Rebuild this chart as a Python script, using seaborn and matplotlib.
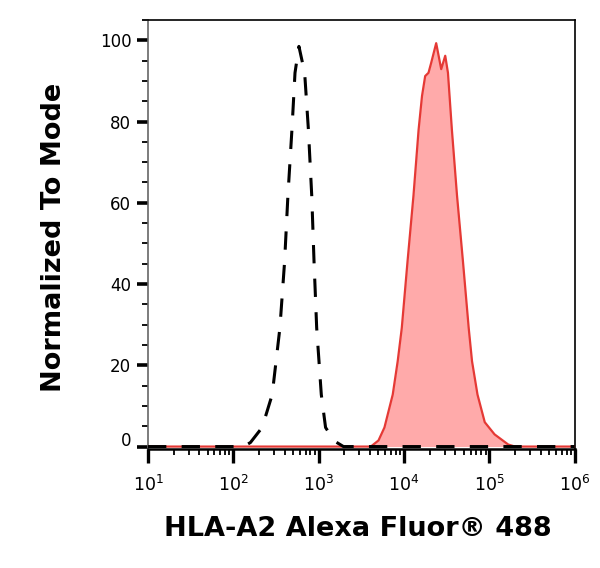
import numpy as np
import pandas as pd
import matplotlib
matplotlib.use("Agg")
import matplotlib.pyplot as plt
import matplotlib.transforms as mtransforms
from matplotlib.ticker import LogLocator, FixedLocator, MultipleLocator, NullFormatter
import seaborn as sns

sns.set_theme(style="ticks")
plt.rcParams['font.family'] = ['DejaVu Sans']
plt.rcParams['mathtext.fontset'] = 'dejavusans'
plt.rcParams['text.color'] = 'black'
plt.rcParams['axes.labelcolor'] = 'black'

# isotype control (dashed), log10 intensity vs % of mode
iso_log = [1.0, 2.12, 2.2, 2.337, 2.455, 2.545, 2.6, 2.639, 2.686, 2.722, 2.768,
           2.835, 2.879, 2.918, 2.945, 2.976, 3.03, 3.08, 3.18, 3.29, 6.0]
iso_pct = [0, 0, 1.0, 4.7, 12.8, 29.2, 45.5, 61.8, 78, 92, 98.5,
           92, 78, 61.8, 45.5, 29.2, 12.8, 4.7, 1.4, 0, 0]

# HLA-A2 stained sample (red, filled)
hla_log = [1.0, 3.61, 3.7, 3.77, 3.867, 3.925, 3.973, 4.04, 4.11, 4.17, 4.21, 4.247,
           4.286, 4.318, 4.376, 4.435, 4.482, 4.514, 4.56, 4.62, 4.69, 4.757,
           4.796, 4.86, 4.945, 5.06, 5.22, 5.3, 6.0]
hla_pct = [0, 0, 1.5, 4.7, 12.8, 21, 29.2, 45.5, 61.8, 78, 86.3, 91.2,
           92, 94.5, 99.3, 92.9, 96.2, 92, 78, 61.8, 45.5, 29.2,
           21, 12.8, 6, 3, 0.5, 0, 0]

decades = [1, 2, 3, 4, 5, 6]
y_ticks = [0, 20, 40, 60, 80, 100]

iso = pd.DataFrame({'x': 10 ** np.array(iso_log), 'y': iso_pct})
hla = pd.DataFrame({'x': 10 ** np.array(hla_log), 'y': hla_pct})

fig = plt.figure(figsize=(6, 5.68), dpi=100)
ax = fig.add_axes([0.2467, 0.2095, 0.958 - 0.2467, 0.9648 - 0.2095])

ax.fill_between(hla['x'], 0, hla['y'], color='#ffaaaa', lw=0, zorder=2)
sns.lineplot(data=hla, x='x', y='y', color='#e53935', lw=1.6, ax=ax,
             sort=False, estimator=None, zorder=3)
sns.lineplot(data=iso, x='x', y='y', color='black', lw=2.2, ax=ax,
             sort=False, estimator=None, zorder=4, dashes=False)
ax.lines[-1].set_dashes((6, 5))

ax.set_xscale('log')
ax.set_xlim(10 ** decades[0], 10 ** decades[-1])
ax.set_ylim(-0.6, 105)

ax.xaxis.set_major_locator(FixedLocator([10 ** k for k in decades]))
ax.set_xticklabels([r'$10^{%d}$' % k for k in decades])
ax.xaxis.set_minor_locator(LogLocator(base=10, subs=np.arange(2, 10), numticks=20))
ax.xaxis.set_minor_formatter(NullFormatter())
ax.yaxis.set_major_locator(FixedLocator(y_ticks))
ax.yaxis.set_minor_locator(MultipleLocator(5))

ax.tick_params(axis='x', which='major', length=10, width=2.4, pad=9, labelsize=12.5, colors='black')
ax.tick_params(axis='x', which='minor', length=4.5, width=1.3, colors='black')
ax.tick_params(axis='y', which='major', length=8, width=2.6, pad=4, labelsize=12, colors='black')
ax.tick_params(axis='y', which='minor', length=4, width=1.3, colors='black')

# the "0" label sits a little above its tick
lbl0 = ax.get_yticklabels()[0]
lbl0.set_transform(lbl0.get_transform() +
                   mtransforms.ScaledTranslation(0, 5.5 / 72, fig.dpi_scale_trans))

for side in ['top', 'right']:
    ax.spines[side].set_color('black')
    ax.spines[side].set_linewidth(1.2)
ax.spines['left'].set_color('#666666')
ax.spines['left'].set_linewidth(1.2)
ax.spines['bottom'].set_color('black')
ax.spines['bottom'].set_linewidth(1.8)

ax.set_xlabel('HLA-A2 Alexa Fluor® 488', fontsize=19.5, fontweight='bold')
ax.set_ylabel('Normalized To Mode', fontsize=19.5, fontweight='bold')
ax.xaxis.set_label_coords(0.4906, -0.156)
ax.yaxis.set_label_coords(-0.19, 0.493)
ax.grid(False)

fig.savefig('out.png', dpi=100)
